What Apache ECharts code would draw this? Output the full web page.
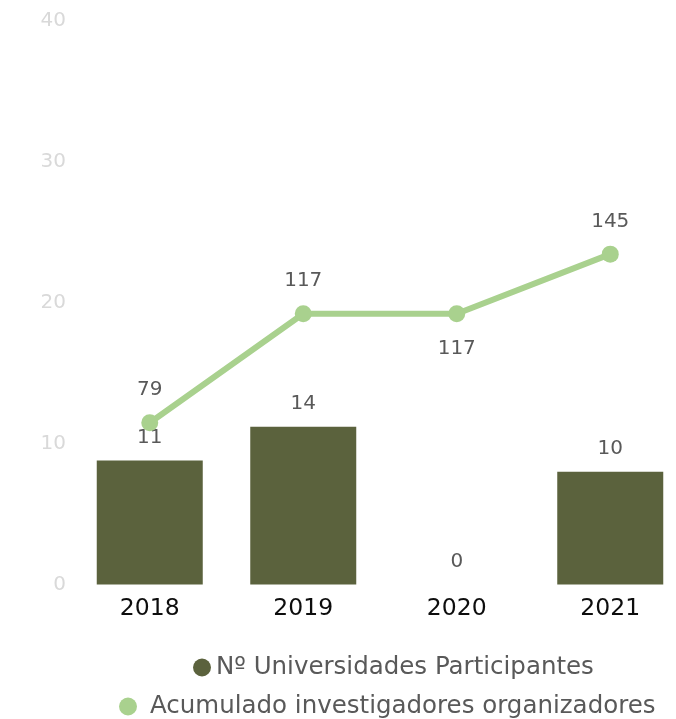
<!DOCTYPE html>
<html>
<head>
<meta charset="utf-8">
<script src="https://cdn.jsdelivr.net/npm/echarts@6/dist/echarts.min.js"></script>
<style>
  html, body { margin: 0; padding: 0; background: #ffffff; }
  #chart { width: 676px; height: 719px; }
</style>
</head>
<body>
<div id="chart"></div>
<script>
// ---- data ----
const years = ['2018', '2019', '2020', '2021'];
const barName = 'Nº Universidades Participantes';
const lineName = 'Acumulado investigadores organizadores';
const universidades = [11, 14, 0, 10];
const investigadores = [79, 117, 117, 145];
const yTickLabels = [0, 10, 20, 30, 40];

const FONT = 'DejaVu Sans';
const chart = echarts.init(document.getElementById('chart'), null, { renderer: 'canvas' });

const option = {
  backgroundColor: '#ffffff',
  animation: false,
  textStyle: { fontFamily: FONT },
  grid: {
    left: 73, top: 21, width: 614, height: 563.5,
    containLabel: false, outerBoundsMode: 'none'
  },
  legend: [
    {
      data: [barName], left: 193, top: 655, padding: 0,
      icon: 'circle', itemWidth: 18, itemHeight: 18, itemGap: 0,
      textStyle: { fontFamily: FONT, fontSize: 24.5, color: '#595959' }
    },
    {
      data: [lineName], left: 119, top: 694, padding: 0,
      icon: 'circle', itemWidth: 18, itemHeight: 18, itemGap: 0,
      textStyle: { fontFamily: FONT, fontSize: 24.5, color: '#595959', padding: [0, 0, 0, 8] }
    }
  ],
  xAxis: {
    type: 'category',
    data: years,
    axisLine: { show: false },
    axisTick: { show: false },
    axisLabel: { fontFamily: FONT, fontSize: 23.5, color: '#0d0d0d', margin: 12 },
    splitLine: { show: false }
  },
  yAxis: [
    {
      type: 'value',
      min: yTickLabels[0], max: yTickLabels[yTickLabels.length - 1], interval: 10,
      axisLine: { show: false }, axisTick: { show: false }, splitLine: { show: false },
      axisLabel: { fontFamily: FONT, fontSize: 20, color: '#d9d9d9', margin: 7 }
    },
    {
      type: 'value', min: 0, max: 50, show: false,
      splitLine: { show: false }
    },
    {
      type: 'log', min: 44.13, max: 335.7, show: false,
      splitLine: { show: false }
    }
  ],
  series: [
    {
      name: barName,
      type: 'bar',
      yAxisIndex: 1,
      data: universidades,
      barWidth: 106,
      itemStyle: { color: '#5b623d' },
      label: {
        show: true, position: 'top', distance: 13,
        fontFamily: FONT, fontSize: 20, color: '#595959'
      }
    },
    {
      name: lineName,
      type: 'line',
      yAxisIndex: 2,
      data: investigadores.map((v, i) => (i === 2 ? { value: v, label: { position: 'bottom', distance: 17 } } : v)),
      symbol: 'circle',
      symbolSize: 17,
      lineStyle: { color: '#a9d18e', width: 6 },
      itemStyle: { color: '#a9d18e' },
      label: {
        show: true, position: 'top', distance: 14,
        fontFamily: FONT, fontSize: 20, color: '#595959'
      },
      z: 3
    }
  ]
};
chart.setOption(option);
</script>
</body>
</html>
